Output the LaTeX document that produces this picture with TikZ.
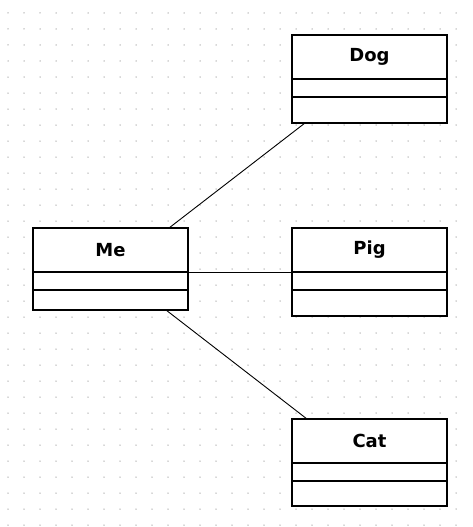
\documentclass[tikz,border=0pt]{standalone}
\usepackage{fontspec}
\newfontfamily\umlfont{DejaVu Sans}
\usepackage{xcolor}
\usepackage{tikz}
\usetikzlibrary{positioning}

\definecolor{griddot}{RGB}{175,175,175}

\begin{document}
\begin{tikzpicture}[
    x=1pt, y=-1pt,
    node distance=0pt,
    classname/.style={rectangle, draw=black, fill=white, line width=1.2pt, outer sep=0pt, inner sep=0pt, minimum width=155pt, minimum height=44pt, font=\umlfont\bfseries\fontsize{18}{21}\selectfont},
    classpart/.style={rectangle, draw=black, fill=white, line width=1.2pt, outer sep=0pt, inner sep=0pt, minimum width=155pt, minimum height=18pt},
    assoc/.style={line width=0.9pt, draw=black}
]
    \useasboundingbox (0,0) rectangle (472,527);
    % dotted canvas
    \foreach \i in {0,...,28}
        \foreach \j in {0,...,32}
            \fill[griddot] (8+16*\i,13+16*\j) circle (0.75pt);

    \node (me) [classname, anchor=north west] at (33,228) {Me};
    \node (meattr) [classpart, below=of me] {};
    \node (meops) [classpart, below=of meattr, minimum height=20pt] {};

    \node (dog) [classname, anchor=north west] at (292,35) {Dog};
    \node (dogattr) [classpart, below=of dog] {};
    \node (dogops) [classpart, below=of dogattr, minimum height=26pt] {};

    \node (pig) [classname, anchor=north west] at (292,228) {Pig};
    \node (pigattr) [classpart, below=of pig] {};
    \node (pigops) [classpart, below=of pigattr, minimum height=26pt] {};

    \node (cat) [classname, anchor=north west] at (292,419) {Cat};
    \node (catattr) [classpart, below=of cat] {};
    \node (catops) [classpart, below=of catattr, minimum height=25pt] {};

    \draw [assoc] ([xshift=-19pt]me.north east) -- ([xshift=13pt]dogops.south west);
    \draw [assoc] (me.south east) -- (pig.south west);
    \draw [assoc] ([xshift=-22pt]meops.south east) -- ([xshift=15pt]cat.north west);
\end{tikzpicture}
\end{document}
